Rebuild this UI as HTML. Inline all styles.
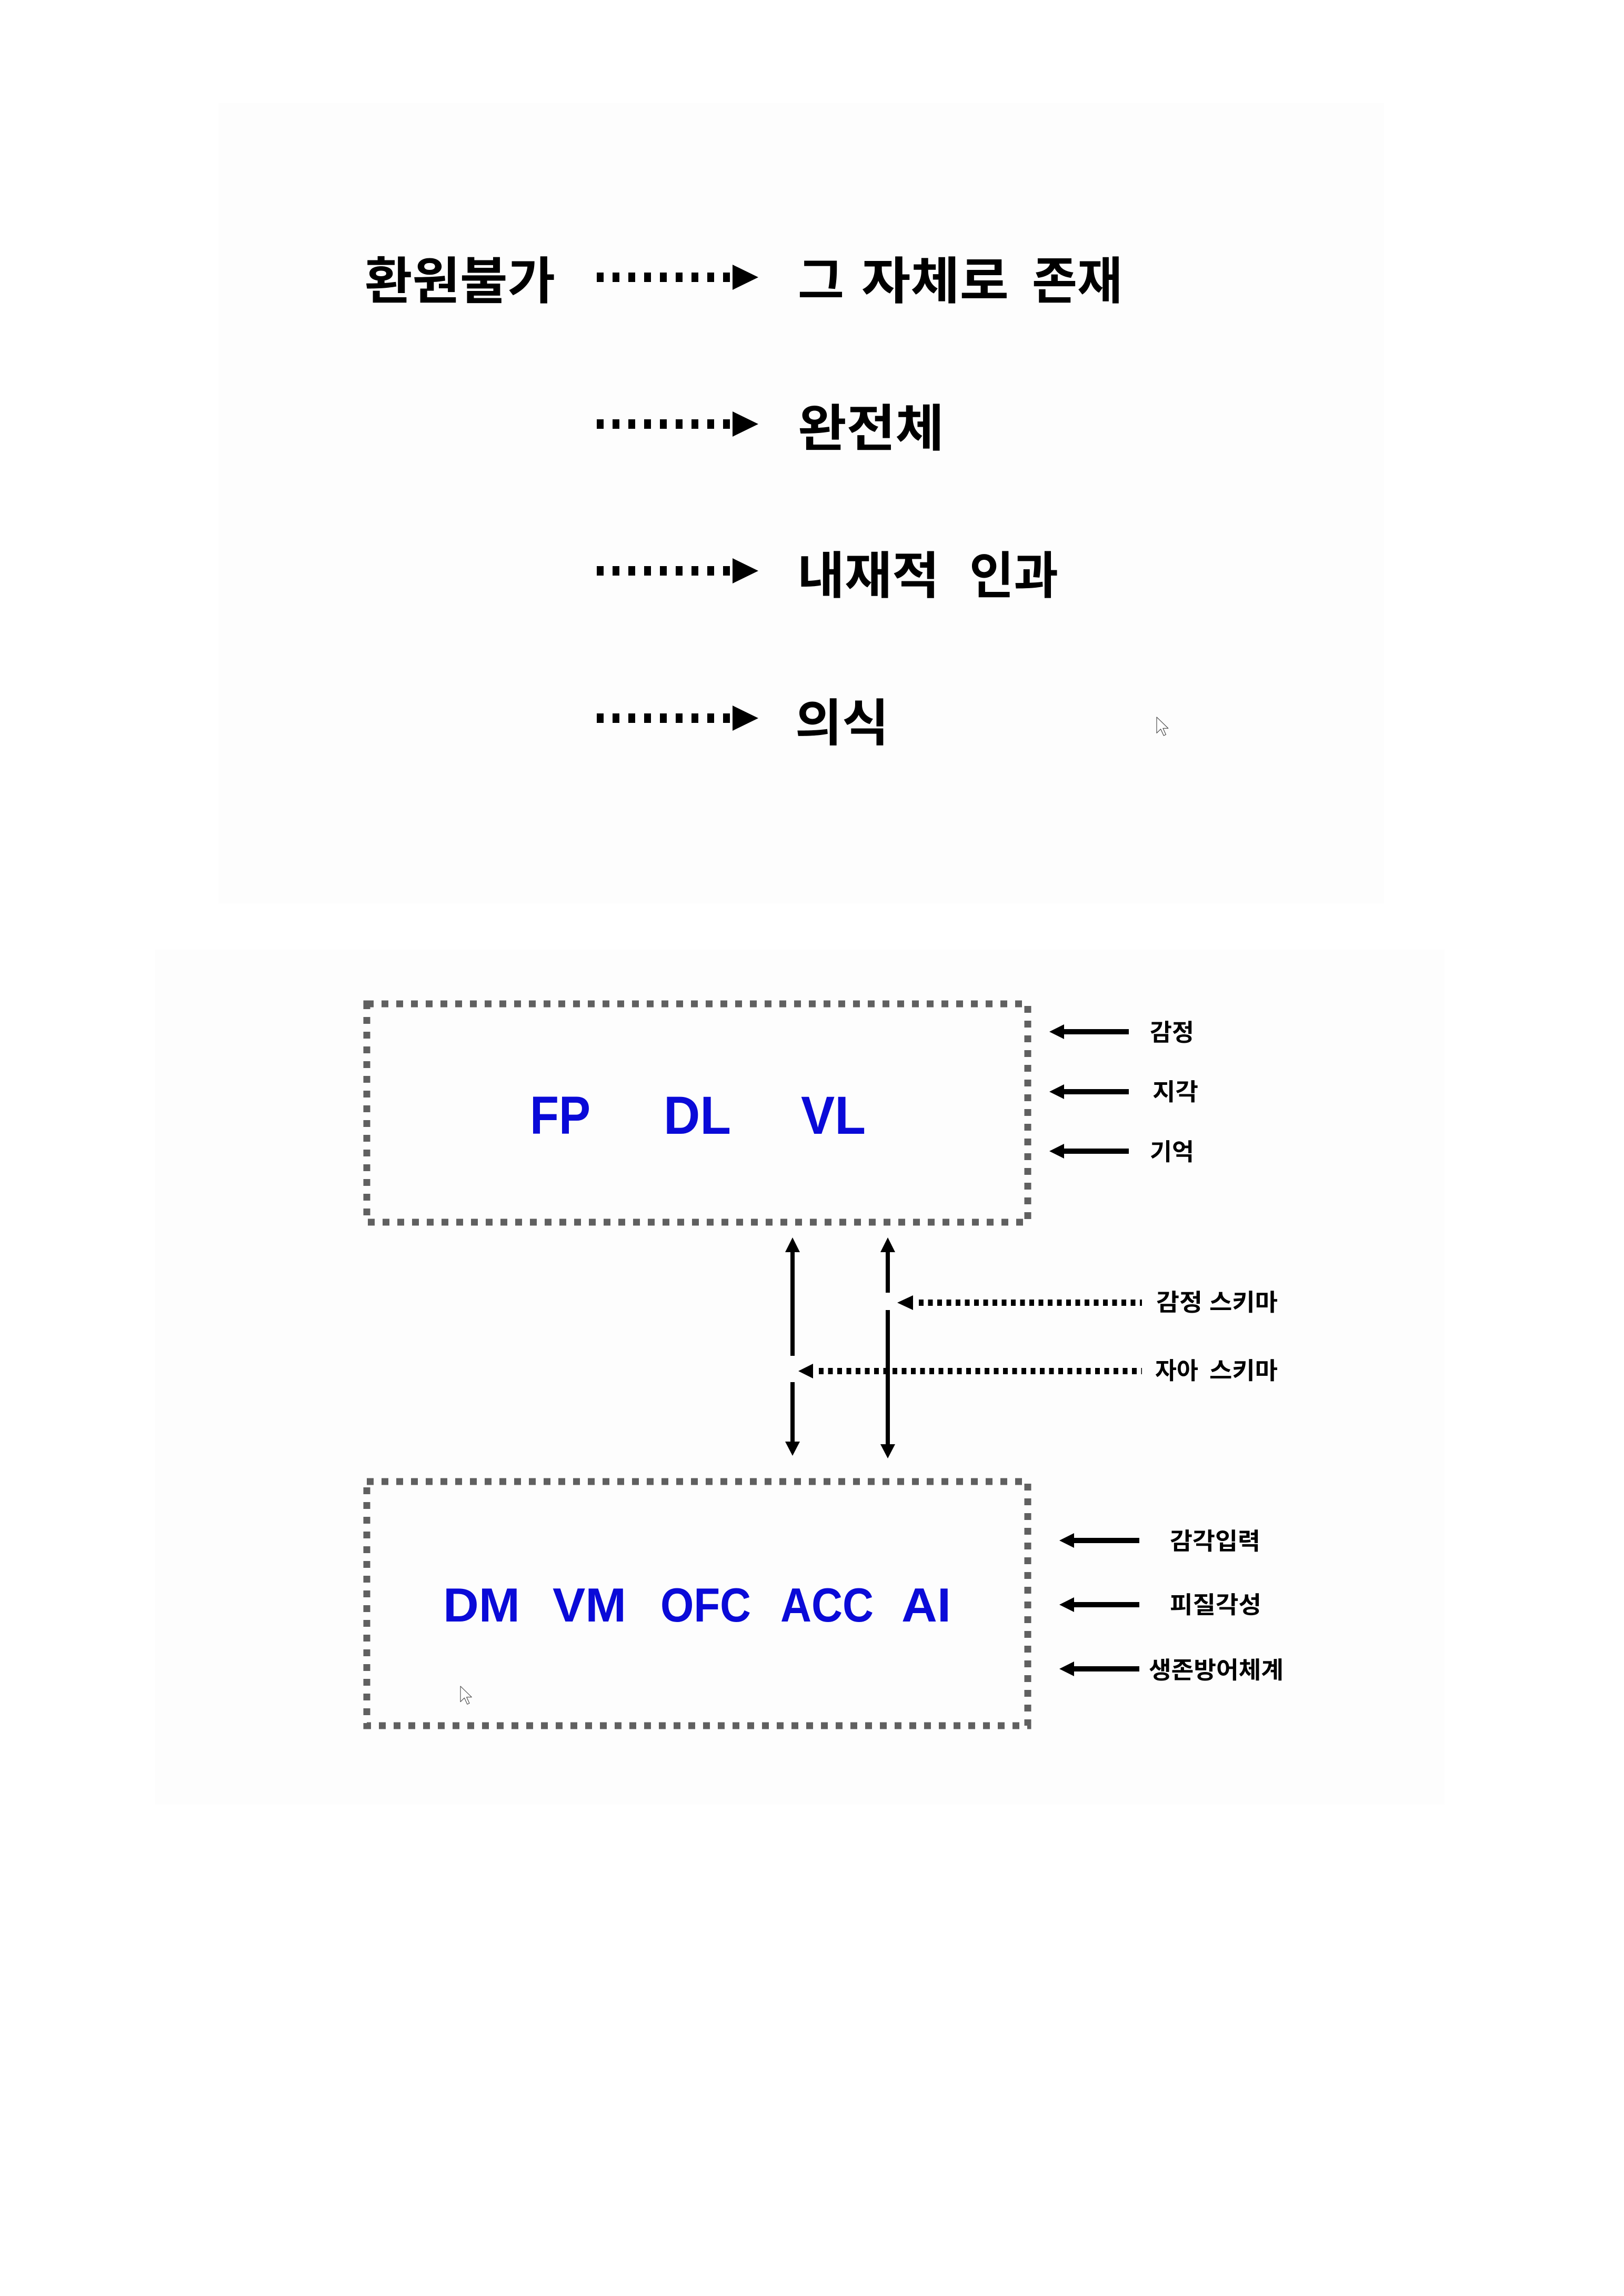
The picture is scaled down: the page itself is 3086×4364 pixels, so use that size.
<!DOCTYPE html>
<html>
<head>
<meta charset="utf-8">
<style>
  html,body{margin:0;padding:0;background:#ffffff;}
  svg{display:block;}
  .kr{font-family:"Liberation Sans","Noto Sans CJK KR",sans-serif;font-weight:700;fill:#000;}
  .en{font-family:"Liberation Sans","Noto Sans CJK KR",sans-serif;font-weight:700;fill:#0a0ad8;}
</style>
</head>
<body>
<svg width="3086" height="4364" viewBox="0 0 3086 4364" xmlns="http://www.w3.org/2000/svg">
  <rect x="0" y="0" width="3086" height="4364" fill="#ffffff"/>
  <!-- faint panels -->
  <rect x="415" y="196" width="2215" height="1521" fill="#fdfdfd"/>
  <rect x="295" y="1805" width="2450" height="1625" fill="#fdfdfd"/>

  <!-- ===== Top section ===== -->
  <defs>
    <g id="bigarrow">
      <rect x="1134" y="-9" width="13" height="18"/>
      <rect x="1164" y="-9" width="13" height="18"/>
      <rect x="1194" y="-9" width="13" height="18"/>
      <rect x="1224" y="-9" width="13" height="18"/>
      <rect x="1254" y="-9" width="13" height="18"/>
      <rect x="1284" y="-9" width="13" height="18"/>
      <rect x="1314" y="-9" width="13" height="18"/>
      <rect x="1344" y="-9" width="13" height="18"/>
      <rect x="1374" y="-9" width="13" height="18"/>
      <polygon points="1392,-24 1441,0 1392,24"/>
    </g>
  </defs>
  <g fill="#000">
    <use href="#bigarrow" transform="translate(0,527)"/>
    <use href="#bigarrow" transform="translate(0,806)"/>
    <use href="#bigarrow" transform="translate(0,1085)"/>
    <use href="#bigarrow" transform="translate(0,1365)"/>
  </g>

  <text class="kr" x="693" y="568" font-size="96" textLength="362" lengthAdjust="spacingAndGlyphs">환원불가</text>
  <text class="kr" x="1516" y="568" font-size="96" textLength="88" lengthAdjust="spacingAndGlyphs">그</text>
  <text class="kr" x="1637" y="568" font-size="96" textLength="280" lengthAdjust="spacingAndGlyphs">자체로</text>
  <text class="kr" x="1961" y="568" font-size="96" textLength="172" lengthAdjust="spacingAndGlyphs">존재</text>

  <text class="kr" x="1516" y="848" font-size="96" textLength="278" lengthAdjust="spacingAndGlyphs">완전체</text>

  <text class="kr" x="1515" y="1128" font-size="96" textLength="270" lengthAdjust="spacingAndGlyphs">내재적</text>
  <text class="kr" x="1842" y="1128" font-size="96" textLength="169" lengthAdjust="spacingAndGlyphs">인과</text>

  <text class="kr" x="1511" y="1408" font-size="96" textLength="178" lengthAdjust="spacingAndGlyphs">의식</text>

  <!-- cursor top -->
  <path d="M0,0 L0,16 L4,12 L7,18.5 L9.2,17.5 L6.3,11.2 L11.5,11.2 Z" transform="translate(2198,1363) scale(1.9)" fill="#ffffff" stroke="#444" stroke-width="0.6" stroke-linejoin="round"/>

  <!-- ===== Bottom section ===== -->
  <!-- top box -->
  <rect x="697" y="1908" width="1256" height="415" fill="none" stroke="#606060" stroke-width="13" stroke-dasharray="13 15"/>
  <text class="en" x="1007" y="2155" font-size="102" textLength="115" lengthAdjust="spacingAndGlyphs">FP</text>
  <text class="en" x="1261" y="2155" font-size="102" textLength="128" lengthAdjust="spacingAndGlyphs">DL</text>
  <text class="en" x="1522" y="2155" font-size="102" textLength="123" lengthAdjust="spacingAndGlyphs">VL</text>

  <!-- right inputs top box -->
  <g fill="#000">
    <rect x="2018" y="1956" width="127" height="10"/>
    <polygon points="1994,1961 2022,1947 2022,1975"/>
    <rect x="2018" y="2070" width="127" height="10"/>
    <polygon points="1994,2075 2022,2061 2022,2089"/>
    <rect x="2018" y="2183" width="127" height="10"/>
    <polygon points="1994,2188 2022,2174 2022,2202"/>
  </g>
  <text class="kr" x="2185" y="1978" font-size="45" textLength="84" lengthAdjust="spacingAndGlyphs">감정</text>
  <text class="kr" x="2190" y="2091" font-size="45" textLength="87" lengthAdjust="spacingAndGlyphs">지각</text>
  <text class="kr" x="2185" y="2205" font-size="45" textLength="84" lengthAdjust="spacingAndGlyphs">기억</text>

  <!-- vertical arrows -->
  <g fill="#000">
    <polygon points="1506,2352 1492,2380 1520,2380"/>
    <rect x="1502" y="2376" width="8" height="201"/>
    <rect x="1502" y="2627" width="8" height="115"/>
    <polygon points="1492,2740 1520,2740 1506,2767"/>

    <polygon points="1687,2352 1673,2380 1701,2380"/>
    <rect x="1683" y="2376" width="8" height="81"/>
    <rect x="1683" y="2490" width="8" height="257"/>
    <polygon points="1673,2745 1701,2745 1687,2772"/>
  </g>

  <!-- dotted schema arrows -->
  <line x1="1746" y1="2476" x2="2170" y2="2476" stroke="#000" stroke-width="12" stroke-dasharray="9 8.5"/>
  <polygon points="1705,2476 1735,2462 1735,2490" fill="#000"/>
  <line x1="1556" y1="2606" x2="2170" y2="2606" stroke="#000" stroke-width="12" stroke-dasharray="9 8.5"/>
  <polygon points="1517,2606 1545,2592 1545,2620" fill="#000"/>

  <text class="kr" x="2197" y="2491" font-size="45" textLength="88" lengthAdjust="spacingAndGlyphs">감정</text>
  <text class="kr" x="2298" y="2491" font-size="45" textLength="130" lengthAdjust="spacingAndGlyphs">스키마</text>
  <text class="kr" x="2195" y="2621" font-size="45" textLength="82" lengthAdjust="spacingAndGlyphs">자아</text>
  <text class="kr" x="2298" y="2621" font-size="45" textLength="130" lengthAdjust="spacingAndGlyphs">스키마</text>

  <!-- bottom box -->
  <rect x="697" y="2816" width="1256" height="464" fill="none" stroke="#606060" stroke-width="13" stroke-dasharray="13 15"/>
  <text class="en" x="842" y="3082" font-size="91" textLength="146" lengthAdjust="spacingAndGlyphs">DM</text>
  <text class="en" x="1050" y="3082" font-size="91" textLength="140" lengthAdjust="spacingAndGlyphs">VM</text>
  <text class="en" x="1255" y="3082" font-size="91" textLength="172" lengthAdjust="spacingAndGlyphs">OFC</text>
  <text class="en" x="1483" y="3082" font-size="91" textLength="177" lengthAdjust="spacingAndGlyphs">ACC</text>
  <text class="en" x="1713" y="3082" font-size="91" textLength="94" lengthAdjust="spacingAndGlyphs">AI</text>

  <!-- right inputs bottom box -->
  <g fill="#000">
    <rect x="2037" y="2923" width="128" height="10"/>
    <polygon points="2013,2928 2041,2914 2041,2942"/>
    <rect x="2037" y="3045" width="128" height="10"/>
    <polygon points="2013,3050 2041,3036 2041,3064"/>
    <rect x="2037" y="3167" width="128" height="10"/>
    <polygon points="2013,3172 2041,3158 2041,3186"/>
  </g>
  <text class="kr" x="2223" y="2945" font-size="45" textLength="172" lengthAdjust="spacingAndGlyphs">감각입력</text>
  <text class="kr" x="2223" y="3066" font-size="45" textLength="174" lengthAdjust="spacingAndGlyphs">피질각성</text>
  <text class="kr" x="2183" y="3190" font-size="45" textLength="256" lengthAdjust="spacingAndGlyphs">생존방어체계</text>

  <!-- cursor bottom -->
  <path d="M0,0 L0,16 L4,12 L7,18.5 L9.2,17.5 L6.3,11.2 L11.5,11.2 Z" transform="translate(875,3205) scale(1.85)" fill="#ffffff" stroke="#444" stroke-width="0.6" stroke-linejoin="round"/>
</svg>
</body>
</html>
